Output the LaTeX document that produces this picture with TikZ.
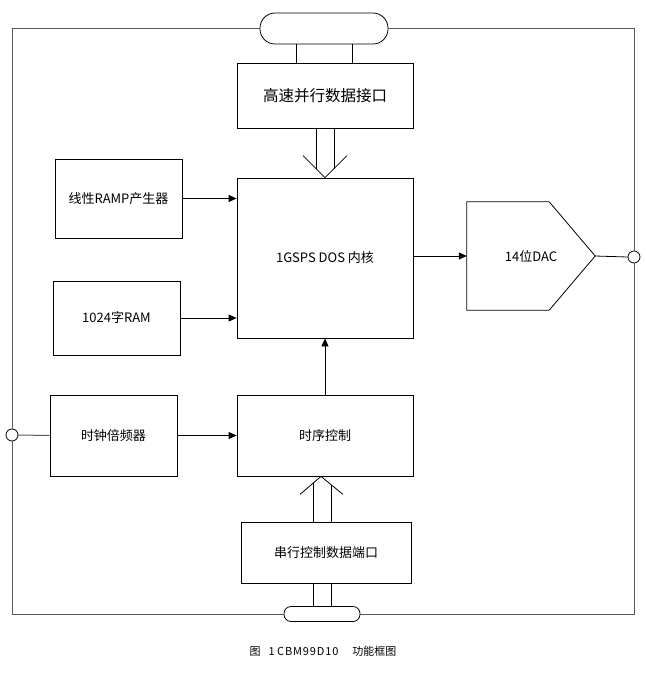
\documentclass[tikz,border=0pt]{standalone}
\usepackage{fontspec}
\setmainfont{Noto Sans CJK SC}
\usetikzlibrary{arrows.meta,positioning,calc}
\tikzset{
    bloco/.style={
        rectangle,
        draw,
        line width=0.8pt,
        fill=white,
        align=center,
        inner sep=0pt,
        font=\fontsize{13}{15}\selectfont
    },
    fluxo/.style={-{Triangle[length=8pt,width=7pt]}, line width=0.8pt},
    linha/.style={line width=0.8pt},
    moldura/.style={draw=black!65, line width=1pt},
    barramento/.style={rectangle, draw, line width=0.8pt, fill=white},
    porta/.style={circle, draw, line width=0.8pt, fill=white, minimum size=12pt, inner sep=0pt}
}

\begin{document}
\begin{tikzpicture}[x=1pt, y=-1pt]
    \useasboundingbox (0,0) rectangle (646,673);

    % barramentos e portas da moldura
    \node[barramento, minimum width=128pt, minimum height=31pt, rounded corners=15pt] (pcima) at (324,28.5) {};
    \node[barramento, minimum width=76pt, minimum height=15pt, rounded corners=7pt] (pbaixo) at (322,614) {};
    \node[porta] (pesq) at (12,435) {};
    \node[porta] (pdir) at (634,257) {};

    \draw[moldura] (pcima.west) -| (pesq.north);
    \draw[moldura] (pesq.south) |- (pbaixo.west);
    \draw[moldura] (pbaixo.east) -| (pdir.south);
    \draw[moldura] (pdir.north) |- (pcima.east);

    % blocos
    \node[bloco, minimum width=176pt, minimum height=65pt, font=\fontsize{15.5}{18}\selectfont] (paralelo) at (325,95.5)
        {高速并行数据接口};
    \node[bloco, minimum width=176pt, minimum height=160pt] (nucleo) at (325,258)
        {1GSPS DOS 内核};
    \node[bloco, minimum width=127pt, minimum height=79pt] (rampa) at (118.5,198.5)
        {线性RAMP产生器};
    \node[bloco, minimum width=127pt, minimum height=74pt] (ram) at (116.5,318)
        {1024字RAM};
    \node[bloco, minimum width=127pt, minimum height=81pt] (relogio) at (113.5,435.5)
        {时钟倍频器};
    \node[bloco, minimum width=176pt, minimum height=81pt] (tempo) at (325,435.5)
        {时序控制};
    \node[bloco, minimum width=170pt, minimum height=61pt] (serial) at (326,552.5)
        {串行控制数据端口};
    \node[minimum width=128pt, minimum height=108pt, inner sep=0pt, font=\fontsize{13}{15}\selectfont] (dac) at (531,256)
        {14位DAC};
    \draw[linha] (dac.north west) -- ($(dac.north east)+(-46,0)$) -- (dac.east)
        -- ($(dac.south east)+(-46,0)$) -- (dac.south west) -- cycle;

    % ligacoes simples
    \draw[fluxo] (rampa.east) -- (rampa.east -| nucleo.west);
    \draw[fluxo] (ram.east) -- (ram.east -| nucleo.west);
    \draw[fluxo] (relogio.east) -- (tempo.west);
    \draw[fluxo] (tempo.north) -- (nucleo.south);
    \draw[fluxo] (dac.west -| nucleo.east) -- (dac.west);
    \draw[linha] (dac.east) -- (pdir.west);
    \draw[moldura] (pesq.east) -- (relogio.west);

    % barramento superior
    \coordinate (t1) at ($(pcima.south)+(-28,0)$);
    \coordinate (t2) at ($(pcima.south)+(28,0)$);
    \draw[linha] (t1) -- (t1 |- paralelo.north);
    \draw[linha] (t2) -- (t2 |- paralelo.north);

    % seta dupla para o nucleo
    \draw[linha] ($(paralelo.south)+(-9,0)$) -- ($(nucleo.north)+(-9,-9)$);
    \draw[linha] ($(paralelo.south)+(9,0)$) -- ($(nucleo.north)+(9,-9)$);
    \draw[linha] ($(nucleo.north)+(-22,-22)$) -- (nucleo.north) -- ($(nucleo.north)+(22,-22)$);

    % seta dupla para o controle
    \coordinate (ponta) at ($(tempo.south)+(-4,0)$);
    \draw[linha] ($(serial.north)+(-13,0)$) -- ($(ponta)+(-8,7)$);
    \draw[linha] ($(serial.north)+(5,0)$) -- ($(ponta)+(10,8.5)$);
    \draw[linha] ($(ponta)+(-21,18)$) -- (ponta) -- ($(ponta)+(22,18)$);

    % barramento inferior
    \coordinate (b1) at ($(pbaixo.north)+(-9,0)$);
    \coordinate (b2) at ($(pbaixo.north)+(9,0)$);
    \draw[linha] (b1) -- (b1 |- serial.south);
    \draw[linha] (b2) -- (b2 |- serial.south);

    \node[font=\fontsize{11}{13}\selectfont] (legenda) at (323,651)
        {图\hspace{8pt}1 {\addfontfeature{LetterSpace=8}CBM99D10}\hspace{14pt}功能框图};
\end{tikzpicture}
\end{document}
